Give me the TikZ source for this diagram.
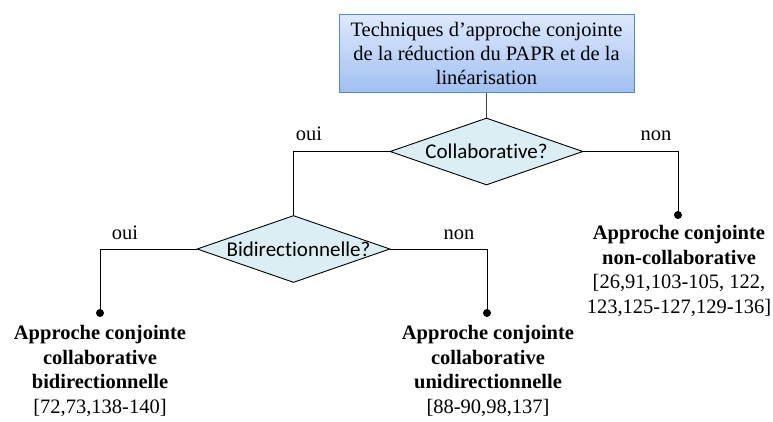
\documentclass[tikz,border=0pt]{standalone}
\usepackage{fontspec}
\setmainfont{Liberation Serif}
\newfontfamily\carl[Ligatures=NoCommon]{Carlito}
\usetikzlibrary{shapes.geometric}
\definecolor{boxtop}{RGB}{222,233,251}
\definecolor{boxbot}{RGB}{160,192,242}
\definecolor{boxborder}{RGB}{84,136,206}
\definecolor{diafill}{RGB}{218,238,243}
\begin{document}
\begin{tikzpicture}[x=1pt,y=-1pt,
  txt/.style={font=\fontsize{20.5}{24.8}\selectfont, align=center, inner sep=0pt},
  topbox/.style={draw=boxborder, line width=1pt, top color=boxtop, bottom color=boxbot,
    minimum width=295pt, minimum height=78pt, inner sep=0pt,
    font=\fontsize{20.5}{24}\selectfont, align=center},
  decision/.style={diamond, draw=black, fill=diafill, line width=0.9pt,
    minimum width=193pt, minimum height=67pt, inner sep=0pt},
  qtext/.style={font=\carl\fontsize{21}{25}\selectfont, inner sep=0pt},
  link/.style={draw=black, line width=0.9pt},
  enddot/.style={circle, fill=black, minimum size=8pt, inner sep=0pt},
  lbl/.style={font=\fontsize{20.5}{24}\selectfont, inner sep=0pt, anchor=base}]
\useasboundingbox (0,0) rectangle (773,421);

% top box
\node[topbox] (t) at (486.5,53) {Techniques d’approche conjointe\\de la réduction du PAPR et de la\\linéarisation};

% decisions
\node[decision] (q1) at (486.5,151.5) {};
\node[qtext] (q1t) at (q1.center) {Collaborative?};
\node[decision] (q2) at (293.5,249) {};
\node[qtext] (q2t) at ([xshift=5pt]q2.center) {Bidirectionnelle?};

% end dots
\node[enddot] (d1) at (100,313) {};
\node[enddot] (d2) at (487,313) {};
\node[enddot] (d3) at (678,215) {};

% connectors
\draw[link, draw=black!75] (t.south -| q1.north) -- (q1.north);
\draw[link] (q1.west) -| (q2.north);
\draw[link] (q1.east) -| (d3.center);
\draw[link] (q2.west) -| (d1.center);
\draw[link] (q2.east) -| (d2.center);

% branch labels
\node[lbl] (l1) at (309,140) {oui};
\node[lbl] (l2) at (656,140) {non};
\node[lbl] (l3) at (125,239) {oui};
\node[lbl] (l4) at (459,239) {non};

% outcomes
\node[txt] (o1) at (100,371) {\textbf{Approche conjointe}\\\textbf{collaborative}\\\textbf{bidirectionnelle}\\{[72,73,138-140]}};
\node[txt] (o2) at (488,371) {\textbf{Approche conjointe}\\\textbf{collaborative}\\\textbf{unidirectionnelle}\\{[88-90,98,137]}};
\node[txt] (o3) at (679,271) {\textbf{Approche conjointe}\\\textbf{non-collaborative}\\{[26,91,103-105, 122,}\\{123,125-127,129-136]}};
\end{tikzpicture}
\end{document}
